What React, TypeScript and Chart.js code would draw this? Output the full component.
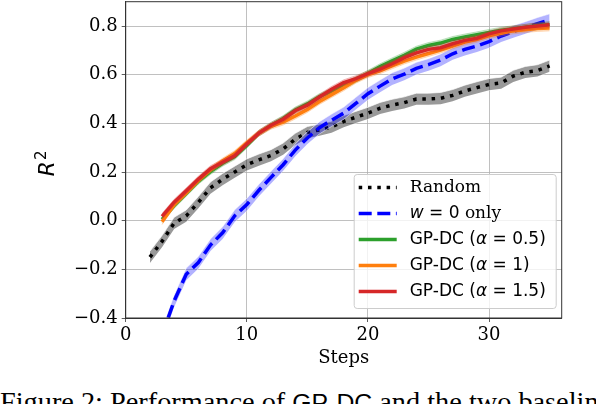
import React, { useEffect, useRef } from "react";
import { Chart, registerables } from "chart.js";

Chart.register(...registerables);

// ---------- data ----------
const stepsRandom = [2, 3, 4, 5, 6, 7, 8, 9, 10, 11, 12, 13, 14, 15, 16, 17, 18, 19, 20, 21, 22, 23, 24, 25, 26, 27, 28, 29, 30, 31, 32, 33, 34, 35];
const stepsOther = [3, 4, 5, 6, 7, 8, 9, 10, 11, 12, 13, 14, 15, 16, 17, 18, 19, 20, 21, 22, 23, 24, 25, 26, 27, 28, 29, 30, 31, 32, 33, 34, 35];

const randomR2 = [-0.15, -0.085, -0.01, 0.02, 0.075, 0.135, 0.17, 0.2, 0.23, 0.25, 0.268, 0.295, 0.335, 0.363, 0.373, 0.385, 0.408, 0.425, 0.442, 0.462, 0.475, 0.485, 0.5, 0.5, 0.503, 0.515, 0.533, 0.547, 0.56, 0.566, 0.594, 0.61, 0.617, 0.636];
const w0R2 = [-0.47, -0.33, -0.22, -0.172, -0.1, -0.05, 0.02, 0.066, 0.125, 0.178, 0.23, 0.29, 0.34, 0.382, 0.413, 0.442, 0.482, 0.522, 0.553, 0.583, 0.602, 0.626, 0.641, 0.66, 0.686, 0.704, 0.718, 0.736, 0.759, 0.777, 0.793, 0.81, 0.825];
const gp05R2 = [0.005, 0.062, 0.112, 0.162, 0.202, 0.236, 0.263, 0.31, 0.36, 0.392, 0.42, 0.455, 0.48, 0.51, 0.532, 0.553, 0.58, 0.606, 0.633, 0.657, 0.68, 0.705, 0.72, 0.73, 0.745, 0.755, 0.764, 0.774, 0.783, 0.789, 0.795, 0.802, 0.806];
const gp1R2 = [-0.004, 0.066, 0.115, 0.166, 0.21, 0.245, 0.276, 0.32, 0.36, 0.388, 0.405, 0.43, 0.457, 0.49, 0.518, 0.546, 0.577, 0.6, 0.616, 0.636, 0.656, 0.672, 0.687, 0.701, 0.718, 0.734, 0.745, 0.76, 0.77, 0.78, 0.785, 0.79, 0.792];
const gp15R2 = [0.018, 0.076, 0.123, 0.171, 0.214, 0.24, 0.267, 0.315, 0.36, 0.392, 0.417, 0.452, 0.475, 0.508, 0.54, 0.567, 0.584, 0.604, 0.623, 0.645, 0.67, 0.69, 0.704, 0.711, 0.727, 0.741, 0.75, 0.768, 0.78, 0.788, 0.795, 0.8, 0.805];

// half-width of the shaded bands
const bandRandom = 0.024;
const bandW0 = 0.025;
const bandGP = 0.012;

const xTicks = [0, 10, 20, 30];
const yTicks = [-0.4, -0.2, 0.0, 0.2, 0.4, 0.6, 0.8];

const seriesLabels = ["Random", "w = 0 only", "GP-DC (α = 0.5)", "GP-DC (α = 1)", "GP-DC (α = 1.5)"];
const xTitle = "Steps";
const yTitleBase = "R";
const yTitleSup = "2";

// ---------- styles ----------
const LW = 3.5;
const DOT = [3.5, 5.8];
const DASH = [13, 5.6];
const serif = '"DejaVu Serif", serif';
const sans = '"DejaVu Sans", sans-serif';

const series = [
  { steps: stepsRandom, values: randomR2, band: bandRandom, color: "#000000", dash: DOT, fill: "rgba(0,0,0,0.4)", edge: "rgba(255,255,255,0.7)" },
  { steps: stepsOther, values: w0R2, band: bandW0, color: "#0000ff", dash: DASH, fill: "rgba(0,0,255,0.3)", edge: "rgba(255,255,255,0.6)" },
  { steps: stepsOther, values: gp05R2, band: bandGP, color: "#2ca02c", dash: [] as number[], fill: "rgba(44,160,44,0.22)", edge: "rgba(44,160,44,0.25)" },
  { steps: stepsOther, values: gp1R2, band: bandGP, color: "#ff7f0e", dash: [] as number[], fill: "rgba(255,127,14,0.22)", edge: "rgba(255,127,14,0.25)" },
  { steps: stepsOther, values: gp15R2, band: bandGP, color: "#d62728", dash: [] as number[], fill: "rgba(214,39,40,0.22)", edge: "rgba(214,39,40,0.25)" },
];

const legendRuns: [string, string][][] = [
  [[seriesLabels[0], `17px ${serif}`]],
  [["w", `italic 17px ${sans}`], [" = 0", `17px ${sans}`], [" only", `17px ${serif}`]],
  [["GP-DC (", `17px ${sans}`], ["α", `italic 17px ${sans}`], [" = 0.5)", `17px ${sans}`]],
  [["GP-DC (", `17px ${sans}`], ["α", `italic 17px ${sans}`], [" = 1)", `17px ${sans}`]],
  [["GP-DC (", `17px ${sans}`], ["α", `italic 17px ${sans}`], [" = 1.5)", `17px ${sans}`]],
];

const framePlugin = {
  id: "frame",
  afterDatasetsDraw(chart: any) {
    const { ctx, chartArea: a } = chart;
    ctx.save();
    ctx.strokeStyle = "#333333";
    ctx.lineWidth = 1;
    ctx.strokeRect(a.left, a.top, a.right - a.left, a.bottom - a.top);
    ctx.restore();
  },
};

// y-axis title "R^2" (mathtext-like superscript)
const yTitlePlugin = {
  id: "ytitle",
  afterDraw(chart: any) {
    const { ctx, chartArea } = chart;
    const cy = (chartArea.top + chartArea.bottom) / 2;
    ctx.save();
    ctx.translate(53.5, cy + 16.5);
    ctx.rotate(-Math.PI / 2);
    ctx.fillStyle = "#000";
    ctx.textBaseline = "alphabetic";
    ctx.textAlign = "left";
    ctx.font = `italic 21.5px ${sans}`;
    ctx.fillText(yTitleBase, 0, 0);
    const w = ctx.measureText(yTitleBase).width;
    ctx.font = `15px ${sans}`;
    ctx.fillText(yTitleSup, w + 1.5, -7.5);
    ctx.restore();
  },
};

const legendPlugin = {
  id: "r2legend",
  afterDraw(chart: any) {
    const { ctx, chartArea } = chart;
    const boxW = 202;
    const boxH = 134;
    const x0 = chartArea.right - 6 - boxW;
    const y0 = chartArea.bottom - 10 - boxH;
    ctx.save();
    ctx.beginPath();
    if (ctx.roundRect) ctx.roundRect(x0 + 0.5, y0 + 0.5, boxW, boxH, 3);
    else ctx.rect(x0 + 0.5, y0 + 0.5, boxW, boxH);
    ctx.fillStyle = "rgba(255,255,255,0.8)";
    ctx.fill();
    ctx.strokeStyle = "#cccccc";
    ctx.lineWidth = 1;
    ctx.stroke();
    series.forEach((s, i) => {
      const y = y0 + 13.5 + i * 26;
      ctx.beginPath();
      ctx.setLineDash(s.dash);
      ctx.lineCap = "butt";
      ctx.strokeStyle = s.color;
      ctx.lineWidth = LW;
      ctx.moveTo(x0 + 5, y);
      ctx.lineTo(x0 + 43, y);
      ctx.stroke();
      ctx.setLineDash([]);
      let tx = x0 + 56;
      ctx.textBaseline = "middle";
      ctx.textAlign = "left";
      ctx.fillStyle = "#000000";
      for (const [text, font] of legendRuns[i]) {
        ctx.font = font;
        ctx.fillText(text, tx, y);
        tx += ctx.measureText(text).width;
      }
    });
    ctx.restore();
  },
};

function buildDatasets() {
  const ds: any[] = [];
  series.forEach((s, i) => {
    const base = 20 - i * 2;
    const pts = (f: (v: number) => number) => s.steps.map((x, k) => ({ x, y: f(s.values[k]) }));
    ds.push({
      label: seriesLabels[i] + " upper",
      data: pts((v) => v + s.band),
      borderColor: s.edge,
      borderWidth: 1,
      backgroundColor: s.fill,
      fill: "+1",
      order: base + 1,
      clip: 0,
    });
    ds.push({
      label: seriesLabels[i] + " lower",
      data: pts((v) => v - s.band),
      borderColor: s.edge,
      borderWidth: 1,
      fill: false,
      order: base + 1.5,
      clip: 0,
    });
    ds.push({
      label: seriesLabels[i],
      data: pts((v) => v),
      borderColor: s.color,
      borderWidth: LW,
      borderDash: s.dash,
      borderCapStyle: "butt",
      fill: false,
      order: base,
      clip: 0,
    });
  });
  return ds;
}

export default function App() {
  const ref = useRef<HTMLCanvasElement | null>(null);

  useEffect(() => {
    if (!ref.current) return;
    const chart = new Chart(ref.current, {
      type: "line",
      data: { datasets: buildDatasets() },
      options: {
        animation: false,
        responsive: false,
        events: [],
        layout: { padding: { top: 1.7, right: 34.3, bottom: 0, left: 0 } },
        elements: { point: { radius: 0 }, line: { tension: 0 } },
        plugins: { legend: { display: false }, tooltip: { enabled: false } },
        scales: {
          x: {
            type: "linear",
            min: 0,
            max: 36,
            afterBuildTicks: (scale: any) => {
              scale.ticks = xTicks.map((v) => ({ value: v }));
            },
            afterFit: (scale: any) => {
              scale.height = 62;
              scale.paddingLeft = 0;
              scale.paddingRight = 0;
            },
            ticks: {
              color: "#000",
              font: { family: serif, size: 18 },
              padding: 3,
              maxRotation: 0,
              callback: (v: any) => String(v),
            },
            grid: { color: "#b0b0b0", lineWidth: 0.8, tickColor: "#333", tickLength: 4, drawTicks: true },
            border: { display: true, color: "#333", width: 1 },
            title: {
              display: true,
              text: xTitle,
              color: "#000",
              font: { family: serif, size: 18 },
              padding: { top: 0, bottom: 11 },
            },
          },
          y: {
            type: "linear",
            min: -0.4,
            max: 0.9,
            afterBuildTicks: (scale: any) => {
              scale.ticks = yTicks.map((v) => ({ value: v }));
            },
            afterFit: (scale: any) => {
              scale.width = 125.7;
              scale.paddingTop = 0;
              scale.paddingBottom = 0;
            },
            ticks: {
              color: "#000",
              font: { family: serif, size: 18 },
              padding: 4,
              callback: (v: any) => {
                const n = Number(v);
                return (n < -1e-9 ? "\u2212" : "") + Math.abs(n).toFixed(1);
              },
            },
            grid: { color: "#b0b0b0", lineWidth: 0.8, tickColor: "#333", tickLength: 4, drawTicks: true },
            border: { display: true, color: "#333", width: 1 },
            title: { display: false },
          },
        },
      },
      plugins: [framePlugin, legendPlugin, yTitlePlugin],
    } as any);
    return () => chart.destroy();
  }, []);

  return (
    <div style={{ position: "absolute", left: 0, top: 0, width: 596, height: 404, overflow: "hidden", background: "#fff" }}>
      <canvas ref={ref} width={596} height={380} style={{ position: "absolute", left: 0, top: 0, width: 596, height: 380 }} />
      <div
        style={{
          position: "absolute",
          left: 0,
          top: 388.3,
          whiteSpace: "nowrap",
          fontFamily: '"Liberation Serif", serif',
          fontSize: "28.3px",
          lineHeight: "28.3px",
          color: "#000",
        }}
      >
        Figure 2: Performance of{" "}
        <span style={{ fontFamily: '"Liberation Sans", sans-serif', fontSize: "24.8px", lineHeight: "28.3px" }}>GP-DC</span> and the
        two baselines
      </div>
    </div>
  );
}
